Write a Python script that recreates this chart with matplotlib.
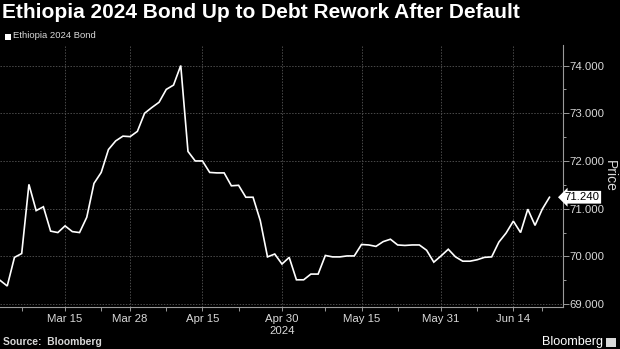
import numpy as np
import pandas as pd
import matplotlib
matplotlib.use('Agg')
import matplotlib.pyplot as plt
from matplotlib.patches import Rectangle

# trading days shown on the chart (holidays skipped by the terminal)
holidays = ['2024-03-29', '2024-04-01', '2024-05-27']
dates = pd.bdate_range('2024-03-04', '2024-06-21', freq='C', holidays=holidays)

price = [69.50, 69.38, 69.98, 70.06, 71.51, 70.96, 71.04, 70.53, 70.50, 70.64,
         70.52, 70.50, 70.82, 71.53, 71.76, 72.24, 72.42, 72.52, 72.51, 72.62,
         73.00, 73.12, 73.23, 73.50, 73.59, 74.00, 72.20, 72.00, 72.00, 71.76,
         71.75, 71.75, 71.48, 71.49, 71.24, 71.24, 70.75, 69.99, 70.05, 69.84,
         69.98, 69.51, 69.51, 69.63, 69.63, 70.02, 69.99, 69.99, 70.01, 70.01,
         70.25, 70.24, 70.21, 70.31, 70.36, 70.24, 70.23, 70.24, 70.24, 70.13,
         69.88, 70.01, 70.15, 69.99, 69.90, 69.90, 69.93, 69.98, 69.99, 70.30,
         70.49, 70.74, 70.50, 70.99, 70.65, 70.99, 71.24]

major_dates = ['2024-03-15', '2024-03-28', '2024-04-15', '2024-04-30',
               '2024-05-15', '2024-05-31', '2024-06-14']
major_labels = ['Mar 15', 'Mar 28', 'Apr 15', 'Apr 30\n2024',
                'May 15', 'May 31', 'Jun 14']
minor_dates = ['2024-03-07', '2024-03-22', '2024-04-08', '2024-04-22',
               '2024-05-08', '2024-05-22', '2024-06-07', '2024-06-20']
y_ticks = [69, 70, 71, 72, 73, 74]
last_price = 71.24

x = np.arange(len(dates))
pos = {d.strftime('%Y-%m-%d'): i for i, d in enumerate(dates)}

txt = '#d9d9d9'
grid = '#4a4a4a'
spine = '#9a9a9a'

fig = plt.figure(figsize=(6.2, 3.49), dpi=100, facecolor='black')
ax = fig.add_axes([0.0, 1 - 307 / 349, 562.5 / 620, (307 - 45) / 349])
ax.set_facecolor('black')

ax.plot(x, price, color='white', lw=1.2, solid_joinstyle='miter')

# axes
for s in ['left', 'top']:
    ax.spines[s].set_visible(False)
for s in ['right', 'bottom']:
    ax.spines[s].set_color(spine)
    ax.spines[s].set_linewidth(0.8)

ax.yaxis.tick_right()
ax.set_yticks(y_ticks)
ax.set_yticklabels(['%.3f' % v for v in y_ticks])
ax.set_yticks(np.arange(69.5, 74.5, 1.0), minor=True)
ax.set_xticks([pos[d] for d in major_dates])
ax.set_xticklabels(major_labels)
ax.set_xticks([pos[d] for d in minor_dates], minor=True)

# limits after ticks, so the tick lists do not widen them
ax.set_xlim(0, 77.8)
ax.set_ylim(68.94, 74.43)

ax.tick_params(axis='both', which='both', colors=spine, labelcolor=txt,
               labelsize=8.2, direction='out', width=0.7)
ax.tick_params(axis='y', which='major', length=4, pad=1)
ax.tick_params(axis='y', which='minor', length=2.5)
ax.tick_params(axis='x', which='major', length=3, pad=2)
ax.tick_params(axis='x', which='minor', length=3)
for lab in ax.get_xticklabels() + ax.get_yticklabels():
    lab.set_family('Liberation Sans')

ax.grid(True, which='major', color=grid, lw=0.7, ls=(0, (1.5, 1.5)))
ax.set_axisbelow(True)

ax.yaxis.set_label_position('right')
ax.set_ylabel('Price', rotation=270, color=txt, fontsize=10,
              family='Liberation Sans', labelpad=9)

# last value tag
ax.text(1.004, last_price, '%.3f' % last_price, transform=ax.get_yaxis_transform(),
        ha='left', va='center', fontsize=8.2, family='Liberation Sans', color='black',
        bbox=dict(boxstyle='larrow,pad=0.12', fc='white', ec='none'), clip_on=False)

# title / legend / footer
fig.text(0.003, 1 - 13 / 349, 'Ethiopia 2024 Bond Up to Debt Rework After Default',
         color='white', fontsize=15, fontweight='bold', family='Liberation Sans',
         ha='left', va='center')
fig.patches.append(Rectangle((5 / 620, 1 - 39.5 / 349), 5.7 / 620, 6 / 349,
                             transform=fig.transFigure, fc='white', ec='none'))
fig.text(12.7 / 620, 1 - 36 / 349, 'Ethiopia 2024 Bond', color=txt, fontsize=6.8,
         family='Liberation Sans', ha='left', va='center')
fig.text(3 / 620, 1 - 342 / 349, 'Source:  Bloomberg', color=txt, fontsize=7.4,
         fontweight='bold', family='Liberation Sans', ha='left', va='center')
fig.text(603 / 620, 1 - 342.5 / 349, 'Bloomberg', color='white', fontsize=9.1,
         family='Liberation Sans', ha='right', va='center')
fig.patches.append(Rectangle((606 / 620, 1 - 347 / 349), 10 / 620, 9 / 349,
                             transform=fig.transFigure, fc=txt, ec='none'))

fig.savefig('out.png', dpi=100, facecolor='black')
